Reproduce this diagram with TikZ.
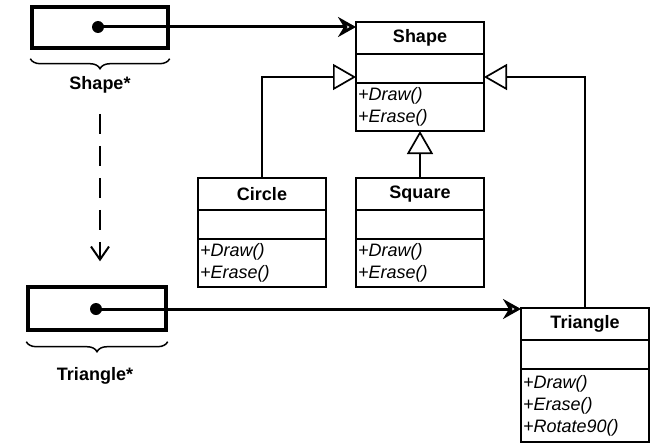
\documentclass[tikz,border=0pt]{standalone}
\usepackage{fontspec}
\setmainfont{Liberation Sans}
\usetikzlibrary{arrows.meta,positioning,decorations.pathreplacing}

\begin{document}
\begin{tikzpicture}[
  x=1pt, y=-1pt,
  font=\fontsize{18}{22}\selectfont,
  cname/.style={rectangle, draw, line width=1.7pt, outer sep=0pt, inner sep=0pt, minimum width=128pt, minimum height=32pt, font=\fontsize{18}{22}\selectfont\bfseries},
  cattr/.style={rectangle, draw, line width=1.7pt, outer sep=0pt, inner sep=0pt, minimum width=128pt, minimum height=29pt},
  cops/.style={rectangle, draw, line width=1.7pt, outer sep=0pt, inner xsep=2pt, inner ysep=1pt, text width=124pt, align=left, font=\fontsize{18}{22}\selectfont\itshape},
  ptr/.style={rectangle, draw, line width=3.4pt, minimum width=136pt, minimum height=41pt},
  dot/.style={circle, fill, inner sep=0pt, minimum size=12pt},
  lbl/.style={font=\fontsize{18}{22}\selectfont\bfseries},
  refer/.style={line width=3pt, -{Stealth[open, length=18pt, width=20pt, inset=6pt]}},
  inherit/.style={line width=1.7pt, -{Triangle[open, length=23pt, width=26pt, fill=white]}},
  grp/.style={line width=1.5pt, decorate, decoration={brace, mirror, amplitude=10pt}},
]
  \useasboundingbox (0,0) rectangle (656,444);

  % classes
  \node[cname] (shape) at (420,38) {Shape};
  \node[cattr, below=0pt of shape] (shape-attr) {};
  \node[cops, minimum height=48pt, below=0pt of shape-attr] (shape-ops) {+Draw()\\+Erase()};

  \node[cname] (circle) at (262,194) {Circle};
  \node[cattr, below=0pt of circle] (circle-attr) {};
  \node[cops, minimum height=48pt, below=0pt of circle-attr] (circle-ops) {+Draw()\\+Erase()};

  \node[cname] (square) at (420,194) {Square};
  \node[cattr, below=0pt of square] (square-attr) {};
  \node[cops, minimum height=48pt, below=0pt of square-attr] (square-ops) {+Draw()\\+Erase()};

  \node[cname] (tri) at (585,324) {Triangle};
  \node[cattr, below=0pt of tri] (tri-attr) {};
  \node[cops, minimum height=73pt, below=0pt of tri-attr] (tri-ops) {+Draw()\\+Erase()\\+Rotate90()};

  % pointers
  \node[ptr] (ptrA) at (100,27.5) {};
  \node[dot] (dotA) at (98,27) {};
  \node[ptr, minimum width=138pt, minimum height=43pt] (ptrB) at (97,308.5) {};
  \node[dot] (dotB) at (96,309) {};
  \draw[grp] ([yshift=-9pt]ptrA.south west) -- ([yshift=-9pt]ptrA.south east);
  \draw[grp] ([yshift=-10pt]ptrB.south west) -- ([yshift=-10pt]ptrB.south east);
  \node[lbl] (lblA) at (100,85) {Shape*};
  \node[lbl] (lblB) at (95,376) {Triangle*};

  % connectors
  \draw[refer] (dotA.center) -- (dotA -| shape.west);
  \draw[refer] (dotB.center) -- (dotB -| tri.west);
  \draw[line width=2pt, dash pattern=on 20pt off 12pt, shorten <=17pt, shorten >=24pt,
    -{Straight Barb[length=13pt, width=18pt]}] (lblA.south) -- (lblA |- ptrB.north);
  \draw[inherit] (circle.north) |- ([yshift=-8.5pt]shape-attr.west);
  \draw[inherit] (tri.north) |- ([yshift=-8.5pt]shape-attr.east);
  \draw[inherit] (square.north) -- (shape-ops.south);
\end{tikzpicture}
\end{document}
